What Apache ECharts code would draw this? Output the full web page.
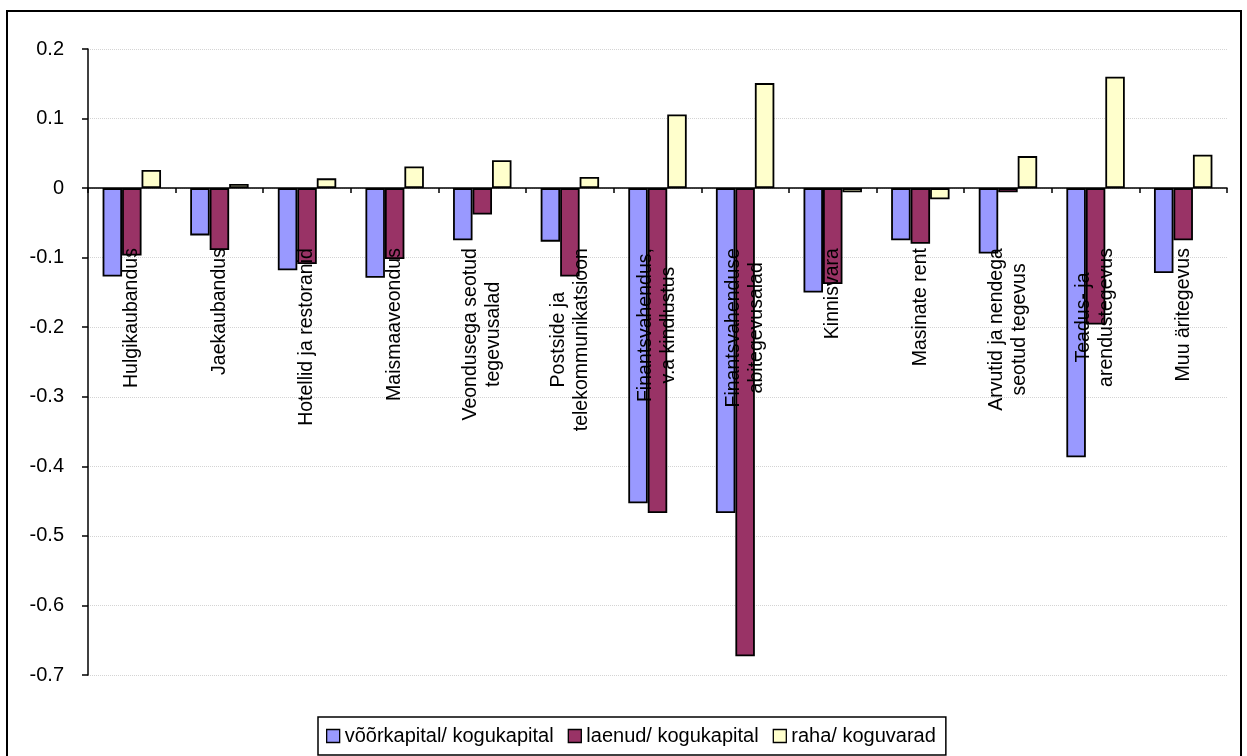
<!DOCTYPE html>
<html>
<head>
<meta charset="utf-8">
<script src="https://cdn.jsdelivr.net/npm/echarts@6/dist/echarts.min.js"></script>
<style>
  html, body { margin: 0; padding: 0; background: #fff; overflow: hidden; }
  #chart { position: absolute; left: 0; top: 0; width: 1247px; height: 756px; }
  #frame { position: absolute; left: 6px; top: 10px; width: 1236px; height: 800px;
           border: 2px solid #000; box-sizing: border-box; pointer-events: none; }
</style>
</head>
<body>
<div id="chart"></div>
<div id="frame"></div>
<script>
const categories = [
  'Hulgikaubandus',
  'Jaekaubandus',
  'Hotellid ja restoranid',
  'Maismaaveondus',
  'Veondusega seotud\ntegevusalad',
  'Postside ja\ntelekommunikatsioon',
  'Finantsvahendus,\nv.a kindlustus',
  'Finantsvahenduse\nabitegevusalad',
  'Kinnisvara',
  'Masinate rent',
  'Arvutid ja nendega\nseotud tegevus',
  'Teadus- ja\narendustegevus',
  'Muu äritegevus'
];
const seriesNames = ['võõrkapital/ kogukapital', 'laenud/ kogukapital', 'raha/ koguvarad'];
const voorkapital = [-0.127, -0.068, -0.118, -0.129, -0.075, -0.077, -0.453, -0.467, -0.150, -0.075, -0.094, -0.387, -0.122];
const laenud      = [-0.097, -0.089, -0.109, -0.102, -0.038, -0.127, -0.467, -0.673, -0.138, -0.080, -0.006, -0.196, -0.075];
const raha        = [0.026, 0.006, 0.014, 0.031, 0.040, 0.016, 0.106, 0.151, -0.006, -0.016, 0.046, 0.160, 0.048];
const yMin = -0.7, yMax = 0.2, yStep = 0.1;

const FONT = '"Liberation Sans", Arial, sans-serif';
const FS = 19.5;
const colors = ['#9999FF', '#993366', '#FFFFCC'];
const GRID = { left: 88, right: 20, top: 49, bottom: 81 };

const chart = echarts.init(document.getElementById('chart'), null, { renderer: 'canvas' });
const barStyle = (c) => ({ color: c, borderColor: '#000', borderWidth: 1.8 });

chart.setOption({
  animation: false,
  backgroundColor: 'transparent',
  textStyle: { fontFamily: FONT, color: '#000' },
  grid: Object.assign({ containLabel: false, outerBoundsMode: 'none' }, GRID),
  legend: {
    data: seriesNames,
    left: 318, top: 717,
    padding: [9, 10, 9, 8],
    itemGap: 14,
    itemWidth: 13, itemHeight: 13,
    icon: 'rect',
    borderColor: '#000', borderWidth: 1.5,
    backgroundColor: '#fff',
    itemStyle: { borderColor: '#000', borderWidth: 1.3 },
    textStyle: { fontFamily: FONT, fontSize: 20, color: '#000', padding: [0, 0, 0, 0] }
  },
  xAxis: {
    type: 'category',
    data: categories,
    z: 10,
    offset: 0,
    axisLine: { onZero: false, lineStyle: { color: '#000', width: 1.5 } },
    axisTick: { show: true, interval: 0, length: 5, lineStyle: { color: '#000', width: 1.5 } },
    axisLabel: {
      interval: 0,
      rotate: 90,
      margin: 60,
      formatter: (v) => v.split('\n').map(l => '{c|' + l + '}').join('\n'),
      rich: { c: { align: 'center', fontFamily: FONT, fontSize: FS, color: '#000', lineHeight: 23 } },
      fontFamily: FONT, fontSize: FS, color: '#000', lineHeight: 23
    },
    splitLine: { show: false }
  },
  yAxis: {
    type: 'value',
    min: yMin, max: yMax, interval: yStep,
    axisLine: { show: true, lineStyle: { color: '#000', width: 1.5 } },
    axisTick: { show: true, length: 6, lineStyle: { color: '#000', width: 1.5 } },
    axisLabel: {
      margin: 24,
      fontFamily: FONT, fontSize: 20, color: '#000',
      formatter: (v) => String(+v.toFixed(1))
    },
    splitLine: { show: true, lineStyle: { color: '#d4d4d4', width: 1, type: 'dotted' } }
  },
  series: [
    { name: seriesNames[0], type: 'bar', data: voorkapital, itemStyle: barStyle(colors[0]), barGap: '0%', barCategoryGap: '33.3%' },
    { name: seriesNames[1], type: 'bar', data: laenud, itemStyle: barStyle(colors[1]), barGap: '0%', barCategoryGap: '33.3%' },
    { name: seriesNames[2], type: 'bar', data: raha, itemStyle: barStyle(colors[2]), barGap: '0%', barCategoryGap: '33.3%' }
  ]
});

// Move the category axis (line, ticks, labels) up to the zero line, as in the original.
const zeroY = chart.convertToPixel({ yAxisIndex: 0 }, 0);
const bottomY = chart.getHeight() - GRID.bottom;
chart.setOption({ xAxis: { offset: zeroY - bottomY } });
</script>
</body>
</html>
